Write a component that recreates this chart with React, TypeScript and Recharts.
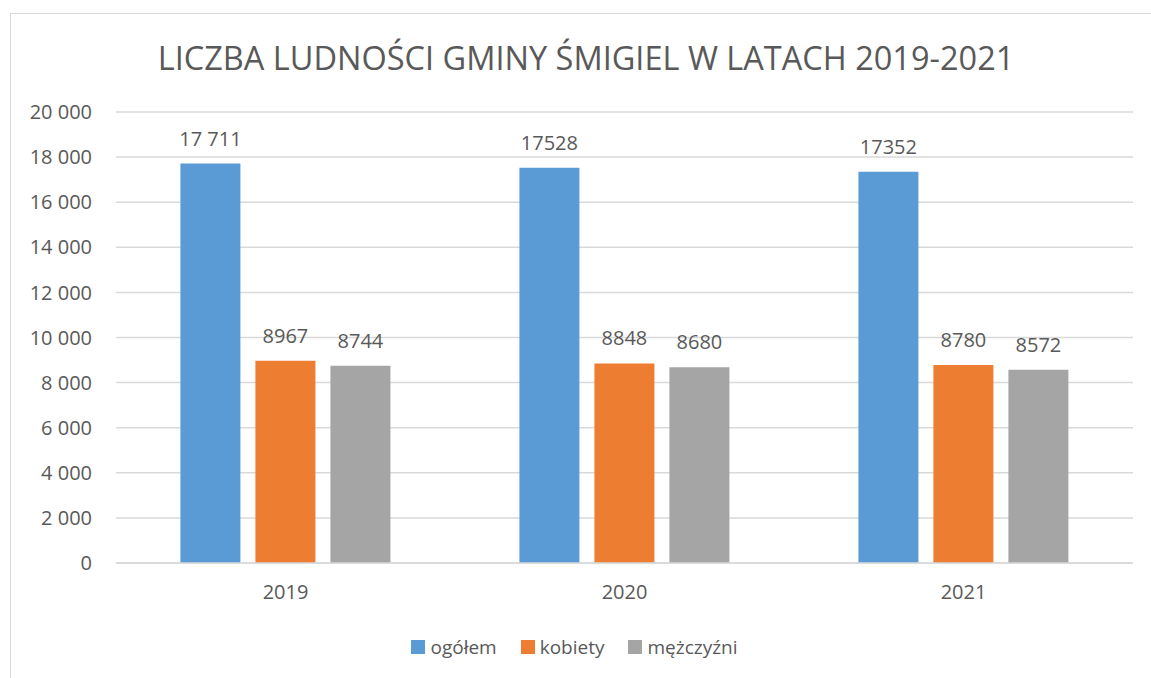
import React from 'react';
import { BarChart, Bar, XAxis, YAxis, CartesianGrid, Legend, LabelList } from 'recharts';

const YEARS = ['2019', '2020', '2021'];
const OGOLEM = [17711, 17528, 17352];
const KOBIETY = [8967, 8848, 8780];
const MEZCZYZNI = [8744, 8680, 8572];
// etykiety danych jak na oryginale (pierwsza z separatorem tysięcy)
const OGOLEM_LABELS = ['17 711', '17528', '17352'];
const SERIES_ORDER = ['ogółem', 'kobiety', 'mężczyźni'];
const Y_TICKS = [0, 2000, 4000, 6000, 8000, 10000, 12000, 14000, 16000, 18000, 20000];

const FONT = '"Open Sans", sans-serif';
const TEXT = '#595959';

const data = YEARS.map((year, i) => ({
  year,
  ogolem: OGOLEM[i],
  ogolemLabel: OGOLEM_LABELS[i],
  kobiety: KOBIETY[i],
  mezczyzni: MEZCZYZNI[i],
}));

const fmtThousands = (v: number) => (v >= 1000 ? `${Math.floor(v / 1000)} ${String(v % 1000).padStart(3, '0')}` : String(v));

const renderLegend = (props: any) => {
  const payload = [...(props.payload || [])].sort(
    (a: any, b: any) => SERIES_ORDER.indexOf(a.value) - SERIES_ORDER.indexOf(b.value)
  );
  return (
    <div style={{ display: 'flex', justifyContent: 'center', gap: 24, fontFamily: FONT, fontSize: 19, color: TEXT }}>
      {payload.map((entry: any) => (
        <div key={entry.value} style={{ display: 'flex', alignItems: 'center' }}>
          <span style={{ display: 'inline-block', width: 14, height: 14, background: entry.color, marginRight: 5 }} />
          <span>{entry.value}</span>
        </div>
      ))}
    </div>
  );
};

const App: React.FC = () => {
  return (
    <div style={{ position: 'absolute', left: 0, top: 0, width: 1151, height: 678, overflow: 'hidden', background: '#fff' }}>
      <div style={{ position: 'absolute', left: 10, top: 13, width: 1160, height: 700, border: '1px solid #d9d9d9' }} />
      <div
        style={{
          position: 'absolute',
          left: 0,
          width: 1172,
          top: 36,
          textAlign: 'center',
          fontFamily: FONT,
          fontSize: 32.5,
          color: TEXT,
          lineHeight: '44px',
        }}
      >
        LICZBA LUDNOŚCI GMINY ŚMIGIEL W LATACH 2019-2021
      </div>
      <BarChart
        width={1151}
        height={678}
        data={data}
        margin={{ top: 112, right: 18, bottom: 59, left: 16 }}
        barCategoryGap="19%"
        barGap={15}
        style={{ position: 'absolute', left: 0, top: 0 }}
      >
        <CartesianGrid vertical={false} stroke="#d9d9d9" strokeWidth={1.5} />
        <XAxis
          dataKey="year"
          tickLine={false}
          axisLine={{ stroke: '#d9d9d9', strokeWidth: 1.5 }}
          tickMargin={16}
          tick={{ fill: TEXT, fontFamily: FONT, fontSize: 20 }}
        />
        <YAxis
          width={100}
          domain={[0, 20000]}
          ticks={Y_TICKS}
          tickFormatter={fmtThousands}
          tickLine={false}
          axisLine={false}
          tickMargin={18}
          tick={{ fill: TEXT, fontFamily: FONT, fontSize: 20 }}
        />
        <Legend
          verticalAlign="bottom"
          align="center"
          wrapperStyle={{ bottom: 18 }}
          content={renderLegend}
        />
        <Bar dataKey="ogolem" name="ogółem" fill="#5B9BD5" isAnimationActive={false}>
          <LabelList dataKey="ogolemLabel" position="top" offset={18} fill={TEXT} fontFamily={FONT} fontSize={20} />
        </Bar>
        <Bar dataKey="kobiety" name="kobiety" fill="#ED7D31" isAnimationActive={false}>
          <LabelList dataKey="kobiety" position="top" offset={18} fill={TEXT} fontFamily={FONT} fontSize={20} />
        </Bar>
        <Bar dataKey="mezczyzni" name="mężczyźni" fill="#A5A5A5" isAnimationActive={false}>
          <LabelList dataKey="mezczyzni" position="top" offset={18} fill={TEXT} fontFamily={FONT} fontSize={20} />
        </Bar>
      </BarChart>
    </div>
  );
};

export default App;
